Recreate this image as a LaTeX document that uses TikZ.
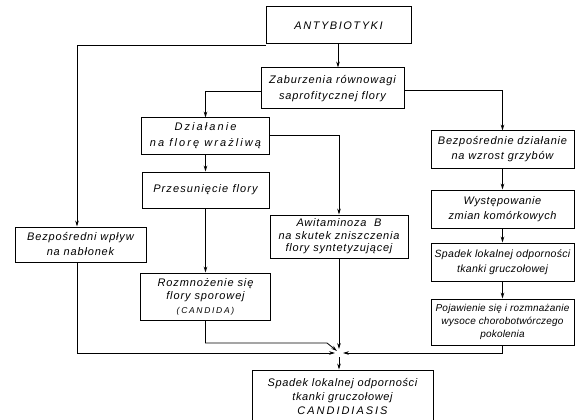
\documentclass[tikz,border=0pt]{standalone}
\usepackage{fontspec}
\newfontfamily\lab{Liberation Sans}
\usetikzlibrary{arrows.meta}
\newcommand\F[3]{\lab\itshape\addfontfeature{LetterSpace=#1}\fontsize{#2}{#3}\selectfont}
\begin{document}
\begin{tikzpicture}[x=1pt,y=-1pt,
  box/.style={draw, line width=1pt, align=center, inner sep=1pt, font=\F{8}{11}{15.5}},
  arr/.style={line width=0.85pt, -{Stealth[length=6pt,width=3.6pt]}}]
\useasboundingbox (0,0) rectangle (579,420);
% nodes
\node[box, minimum width=145pt, minimum height=37pt, font=\F{14}{11}{15}] (ant) at (338.5,25.5) {ANTYBIOTYKI};
\node[box, minimum width=143pt, minimum height=41pt] (zab) at (332.5,88.5) {Zaburzenia równowagi\\saprofitycznej flory};
\node[box, minimum width=128pt, minimum height=36pt, font=\F{19}{11}{16}] (dzi) at (205.5,136) {Działanie\\na florę wrażliwą};
\node[box, minimum width=127pt, minimum height=36pt, font=\F{10}{11}{15}] (prz) at (205.5,190) {Przesunięcie flory};
\node[box, minimum width=130pt, minimum height=47pt, font=\F{8}{11}{13.5}] (roz) at (205.5,296.5) {Rozmnożenie się\\flory sporowej\\{\addfontfeature{LetterSpace=20}\fontsize{8.5}{13}\selectfont (CANDIDA)}};
\node[box, minimum width=131pt, minimum height=35pt, font=\F{7.5}{11}{15}] (bwp) at (80.5,244.5) {Bezpośredni wpływ\\na nabłonek};
\node[box, minimum width=138pt, minimum height=43pt, font=\F{7}{11}{12.5}] (awi) at (339,236.5) {Awitaminoza\ \ B\\na skutek zniszczenia\\flory syntetyzującej};
\node[box, minimum width=143pt, minimum height=37pt, font=\F{7}{11}{15}] (bdz) at (502.5,149.5) {Bezpośrednie działanie\\na wzrost grzybów};
\node[box, minimum width=143pt, minimum height=38pt, font=\F{5}{11}{15.5}] (wys) at (502.5,209) {Występowanie\\zmian komórkowych};
\node[box, minimum width=143pt, minimum height=38pt, font=\F{3}{10.5}{15.5}] (spl) at (502.5,262) {Spadek lokalnej odporności\\tkanki gruczołowej};
\node[box, minimum width=143pt, minimum height=46pt, font=\F{2}{10}{13}] (poj) at (502.5,322) {Pojawienie się i rozmnażanie\\wysoce chorobotwórczego\\pokolenia};
\node[box, minimum width=181pt, minimum height=54pt, font=\F{6}{11}{14}] (fin) at (342.5,397) {Spadek lokalnej odporności\\tkanki gruczołowej\\{\addfontfeature{LetterSpace=18}CANDIDIASIS}};
% helper coordinates
\coordinate (ax) at (338,0);
\coordinate (lx) at (77,0);
\coordinate (cv) at (339,353);
\coordinate (kk) at (327,343);
% connectors
\draw[arr] (ant.south -| ax) -- (zab.north -| ax);
\draw[arr] ([yshift=-1pt]ant.south west) -| (bwp.north -| lx);
\draw[arr] ([yshift=-3pt]zab.west) -| (dzi.north);
\draw[arr] ([yshift=-2pt]zab.east) -| (bdz.north);
\draw[arr] ([yshift=1pt]dzi.east) -| (awi.north);
\draw[arr] (dzi.south) -- (prz.north);
\draw[arr] (prz.south) -- (roz.north);
\draw[arr] (bdz.south) -- (wys.north);
\draw[arr] (wys.south) -- (spl.north);
\draw[arr] (spl.south) -- (poj.north);
\draw[arr] (bwp.south -| lx) |- ([xshift=-4pt]cv);
\draw[arr] (roz.south) |- (kk) -- ([shift={(-2pt,2pt)}]cv);
\draw[arr] (awi.south) -- ([yshift=4pt]cv);
\draw[arr] (poj.south) |- ([xshift=4pt]cv);
\draw[arr] ([yshift=-4pt]cv) -- (fin.north -| cv);
\end{tikzpicture}
\end{document}
